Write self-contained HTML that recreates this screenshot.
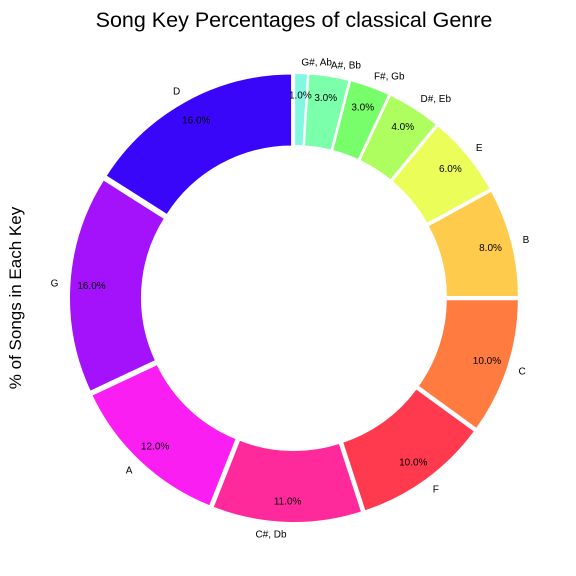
<!DOCTYPE html>
<html><head><meta charset="utf-8"><style>
html,body{margin:0;padding:0;background:#fff;}
svg{display:block;font-family:"Liberation Sans","DejaVu Sans",sans-serif;}
</style></head><body>
<svg id="chart" width="576" height="576" viewBox="0 0 576 576">
<rect width="576" height="576" fill="#fff"/>
<text x="294" y="27" text-anchor="middle" font-size="21.5" fill="#000">Song Key Percentages of classical Genre</text>
<text transform="translate(21,298) rotate(-90)" text-anchor="middle" font-size="17" fill="#000">% of Songs in Each Key</text>
<g id="slices"></g>
</svg>
<script>
const keys = ["D","G","A","C#, Db","F","C","B","E","D#, Eb","F#, Gb","A#, Bb","G#, Ab"];
const percents = [16,16,12,11,10,10,8,6,4,3,3,1];
const colors = ["#3a06fa","#a312fb","#fb1ef3","#fe2a9c","#ff3a4e","#ff7b40","#ffcb4d","#ebfd58","#aefe5f","#78fe6a","#7cffab","#80f9e0"];
const cx=294, cy=298, R=221, r=148, ex=4;
const g=document.getElementById('slices');
const ns="http://www.w3.org/2000/svg";
const total=percents.reduce((a,b)=>a+b,0);
let start=90;
function pt(a,rad,ox,oy){const t=a*Math.PI/180;return [cx+ox+rad*Math.cos(t), cy+oy-rad*Math.sin(t)];}
percents.forEach((v,i)=>{
  const sweep=v/total*360, end=start+sweep, mid=start+sweep/2;
  const m=mid*Math.PI/180, ox=ex*Math.cos(m), oy=-ex*Math.sin(m);
  const p1=pt(start,R,ox,oy), p2=pt(end,R,ox,oy), p3=pt(end,r,ox,oy), p4=pt(start,r,ox,oy);
  const large=sweep>180?1:0;
  const d=`M${p1[0]},${p1[1]} A${R},${R} 0 ${large} 0 ${p2[0]},${p2[1]} L${p3[0]},${p3[1]} A${r},${r} 0 ${large} 1 ${p4[0]},${p4[1]} Z`;
  const path=document.createElementNS(ns,'path');
  path.setAttribute('d',d);path.setAttribute('fill',colors[i]);
  path.setAttribute('stroke','#fff');path.setAttribute('stroke-width','2');
  
  
  g.appendChild(path);
  const lp=pt(mid,R*1.05+ex,0,0);
  const lt=document.createElementNS(ns,'text');
  lt.setAttribute('x',lp[0]);lt.setAttribute('y',lp[1]+3.5);
  lt.setAttribute('font-size','10');
  lt.setAttribute('text-anchor',Math.cos(m)>0.01?'start':(Math.cos(m)<-0.01?'end':'middle'));
  lt.textContent=keys[i];
  
  
  g.appendChild(lt);
  const pp=pt(mid,R*0.9+ex,0,0);
  const pt2=document.createElementNS(ns,'text');
  pt2.setAttribute('x',pp[0]);pt2.setAttribute('y',pp[1]+3.5);
  pt2.setAttribute('font-size','10');pt2.setAttribute('text-anchor','middle');
  pt2.textContent=v.toFixed(1)+'%';
  
  
  g.appendChild(pt2);
  start=end;
});
</script>
</body></html>
